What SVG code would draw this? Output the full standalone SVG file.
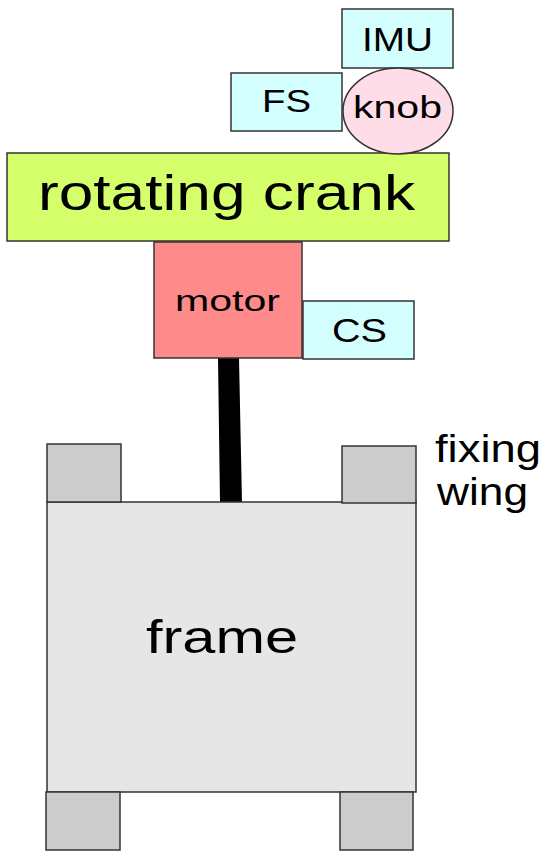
<svg xmlns="http://www.w3.org/2000/svg" width="550" height="856" viewBox="0 0 550 856">
<style>
.b{stroke:#333;stroke-width:1.5}
.s{fill:#d4ffff}
.w{fill:#cccccc}
text{font-family:"Liberation Sans",Arial,sans-serif;fill:#000}
</style>
<rect width="550" height="856" fill="#fff"/>
<g id="connectors">
<polygon points="218,358 239,358 242,503 220,503" fill="#000"/>
</g>
<g id="frame">
<rect class="b" x="47" y="502" width="369" height="290" fill="#e6e6e6"/>
<text x="146" y="653" font-size="46" textLength="152" lengthAdjust="spacingAndGlyphs">frame</text>
</g>
<g id="wing-tl"><rect class="b w" x="47" y="444" width="74" height="58"/></g>
<g id="wing-tr"><rect class="b w" x="342" y="446" width="74" height="57"/></g>
<g id="wing-bl"><rect class="b w" x="46" y="792" width="74" height="58"/></g>
<g id="wing-br"><rect class="b w" x="340" y="792" width="73" height="58"/></g>
<g id="fixing-wing-label">
<text x="435" y="462" font-size="39" textLength="106" lengthAdjust="spacingAndGlyphs">fixing</text>
<text x="437" y="505" font-size="39" textLength="91" lengthAdjust="spacingAndGlyphs">wing</text>
</g>
<g id="crank">
<rect class="b" x="7" y="153" width="442" height="88" fill="#d4ff6a"/>
<text x="38" y="210" font-size="50" textLength="377" lengthAdjust="spacingAndGlyphs">rotating crank</text>
</g>
<g id="motor">
<rect class="b" x="154" y="242" width="148" height="116" fill="#ff8a8a"/>
<text x="175" y="311" font-size="29" textLength="105" lengthAdjust="spacingAndGlyphs">motor</text>
</g>
<g id="CS">
<rect class="b s" x="303" y="301" width="111" height="58"/>
<text x="332" y="342" font-size="34" textLength="55" lengthAdjust="spacingAndGlyphs">CS</text>
</g>
<g id="IMU">
<rect class="b s" x="342" y="9" width="111" height="59"/>
<text x="362" y="51" font-size="34" textLength="71" lengthAdjust="spacingAndGlyphs">IMU</text>
</g>
<g id="FS">
<rect class="b s" x="231" y="73" width="111" height="58"/>
<text x="262" y="112" font-size="32" textLength="49" lengthAdjust="spacingAndGlyphs">FS</text>
</g>
<g id="knob">
<ellipse class="b" cx="398" cy="111" rx="55" ry="43" fill="#ffdde8"/>
<text x="353" y="118" font-size="32" textLength="89" lengthAdjust="spacingAndGlyphs">knob</text>
</g>
</svg>
